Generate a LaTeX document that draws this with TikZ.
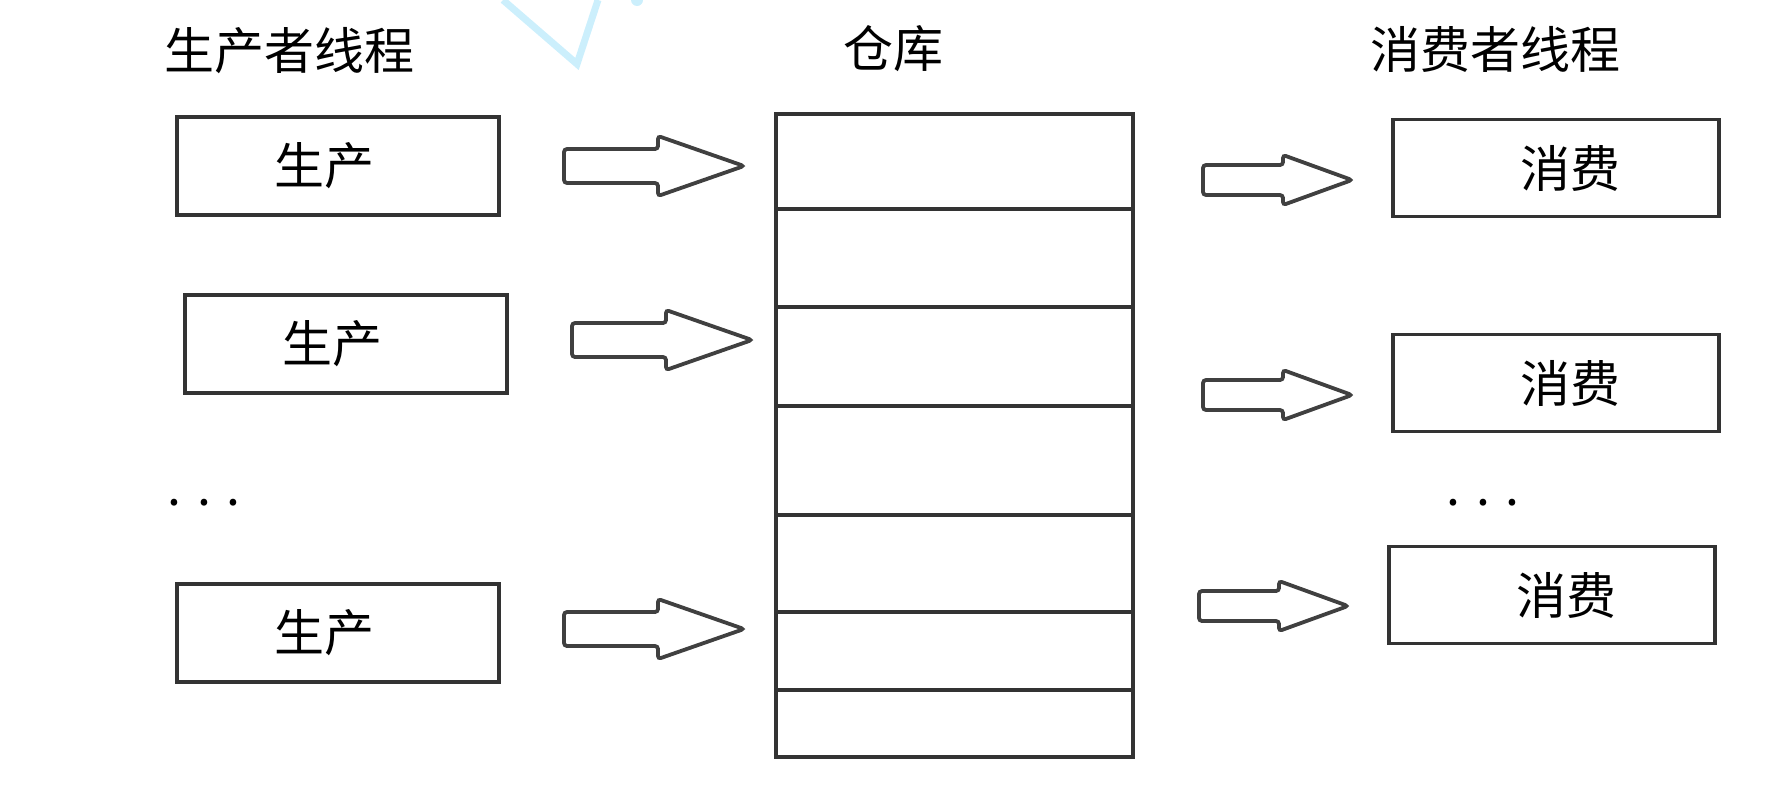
\documentclass[tikz,border=0pt]{standalone}
\usepackage{fontspec}
\newfontfamily\cjk{Noto Sans CJK SC}

\begin{document}
\begin{tikzpicture}[x=.5pt,y=-.5pt,
	every node/.style={font=\cjk\fontsize{25}{30}\selectfont},
	threadbox/.style={draw=black!80,line width=1.7pt,fill=white,inner sep=0pt,minimum width=161pt,minimum height=49pt},
	bigarrow/.style={draw=black!75,line width=1.9pt,fill=white,rounded corners=1.5pt}]
	\useasboundingbox (0,0) rectangle (1792,788);

	% trait bleu
	\draw[cyan!20,line width=3.5pt] (503,0) -- (577,64) -- (598,0);
	\fill[cyan!20] (637,0) circle (3pt);

	% titres
	\node (tprod) at (289,51) {生产者线程};
	\node (tstore) at (893,49) {仓库};
	\node (tcons) at (1495,49) {消费者线程};

	% producteurs
	\foreach \n/\x/\y in {1/338/166,2/346/344,3/338/633} {
		\node[threadbox] (p\n) at (\x,\y) {};
		\node (p\n t) at ([xshift=-7pt]p\n.center) {生产};
	}
	\node (pdots) at (204,503) {.\hspace{8pt}.\hspace{8pt}.};

	% fleches producteurs
	\foreach \n/\x/\y in {1/564/166,2/572/340,3/564/629} {
		\coordinate (pa\n) at (\x,\y);
		\draw[bigarrow] (pa\n) ++(0,-17) -- ++(94,0) -- ++(0,-13) -- ++(86,30) -- ++(-86,30) -- ++(0,-13) -- ++(-94,0) -- cycle;
	}

	% entrepot
	\node[draw=black!80,line width=1.7pt,inner sep=0pt,minimum width=178.5pt,minimum height=321.5pt] (store) at (954.5,435.5) {};
	\foreach \y in {209,307,406,515,612,690} {
		\draw[black!80,line width=1.8pt] (store.west |- 0,\y) -- (store.east |- 0,\y);
	}

	% fleches consommateurs
	\foreach \n/\x/\y in {1/1203/180,2/1203/395,3/1199/606} {
		\coordinate (ca\n) at (\x,\y);
		\draw[bigarrow] (ca\n) ++(0,-15) -- ++(80,0) -- ++(0,-10) -- ++(69,25) -- ++(-69,25) -- ++(0,-10) -- ++(-80,0) -- cycle;
	}

	% consommateurs
	\foreach \n/\x/\y in {1/1556/168,2/1556/383,3/1552/595} {
		\node[threadbox,minimum width=163pt,minimum height=48.5pt] (c\n) at (\x,\y) {};
		\node (c\n t) at ([xshift=7pt]c\n.center) {消费};
	}
	\node (cdots) at (1483,503) {.\hspace{8pt}.\hspace{8pt}.};

\end{tikzpicture}
\end{document}
